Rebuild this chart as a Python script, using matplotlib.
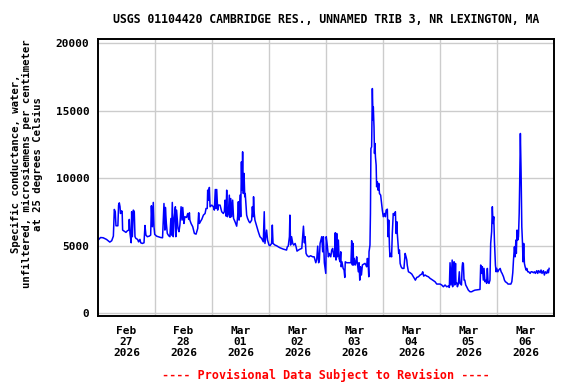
import numpy as np
import pandas as pd
import matplotlib
matplotlib.use("Agg")
from matplotlib import pyplot as plt

# hours since 2026-02-27 00:00 and specific conductance (uS/cm)
hours = [
    0.1, 1.1, 2.2, 3.6, 5.0, 5.8, 6.5, 6.9, 7.3, 7.6, 8.4, 8.7, 9.0, 9.3, 9.5, 10.0,
    10.2, 10.4, 11.4, 11.8, 12.4, 13.0, 13.2, 13.5, 14.0, 14.2, 14.5, 14.9, 15.3, 15.6,
    16.0, 16.7, 17.1, 17.7, 18.0, 18.7, 19.4, 19.8, 20.2, 20.8, 21.6, 22.2, 22.5, 22.9,
    23.3, 23.6, 23.9,
    24.7, 25.4, 26.4, 27.2, 27.8, 28.2, 28.4, 28.8, 29.2, 29.8, 30.3, 30.7, 31.0, 31.3,
    31.7, 32.1, 32.6, 32.8, 33.1, 33.7, 34.1, 34.5, 35.0, 35.4, 35.7, 36.2, 36.6, 37.3,
    37.8, 38.2, 38.5, 38.7, 39.2, 39.9, 40.6, 41.3, 42.0, 42.4, 42.7, 43.1, 43.7, 44.4,
    45.1, 45.5, 46.0, 46.2, 46.5, 46.9, 47.2, 47.9,
    48.6, 49.0, 49.4, 49.7, 50.0, 50.4, 50.7, 51.4, 52.1, 52.8, 53.2, 53.5, 53.9, 54.2,
    54.5, 54.9, 55.3, 55.6, 55.9, 56.3, 56.7, 57.1, 57.7, 58.4, 58.8, 59.1, 59.4, 59.8,
    60.1, 60.4, 60.6, 60.9, 61.2, 61.5, 61.8, 62.0, 62.6, 63.0, 63.6, 64.0, 64.7, 65.0,
    65.3, 65.5, 65.8, 66.1, 66.8, 67.5, 68.2, 68.9, 69.6, 70.0, 70.3, 71.0, 71.4,
    72.0, 72.4, 73.1, 73.4, 73.7, 74.5, 75.2, 75.9, 76.6, 77.3, 78.0, 79.4, 79.7, 80.1,
    80.6, 80.8, 81.1, 81.5, 82.0, 82.4, 83.0, 83.4, 83.8, 84.4, 85.1, 85.8, 86.5, 86.9,
    87.2, 87.6, 88.1, 88.8, 89.5, 90.4, 91.0, 91.7, 92.1, 92.5, 92.9, 93.2, 93.5, 94.2,
    94.6, 94.9, 95.3, 95.9,
    96.1, 96.6, 97.0, 97.4, 98.0, 98.4, 98.8, 99.1, 99.4, 99.6, 99.9, 100.2, 100.5,
    100.8, 101.2, 101.5, 101.9, 102.2, 102.4, 102.7, 103.2, 103.6, 103.9, 104.1, 104.7,
    106.5, 106.8, 107.1, 107.4, 107.6, 107.9, 108.3, 108.6, 108.9, 109.2, 109.6, 109.9,
    110.2, 110.5, 110.9, 111.3, 111.7, 112.4, 112.8, 113.1, 113.4, 113.7, 114.0, 114.1,
    114.5, 114.7, 114.9, 115.2, 115.5, 115.8, 115.9, 116.2, 116.4, 116.6, 116.8, 117.1,
    117.3, 117.6, 117.9, 118.2, 118.5, 119.0, 119.3, 119.7,
    120.1, 120.6, 121.0, 121.3, 121.8, 122.1, 122.4, 122.7, 122.9, 123.2, 123.6, 123.9,
    124.3, 124.8, 125.2, 125.5, 125.8, 126.0, 126.3, 126.6, 126.9, 127.2, 127.6, 128.1,
    128.8, 129.3, 129.7, 130.0, 130.2, 130.7, 131.4, 132.1, 132.8, 133.2, 133.6, 134.2,
    134.9, 135.6, 136.3, 136.7, 137.1, 137.7, 138.4, 139.1, 139.8, 140.5, 141.2, 141.9,
    142.6, 144.0, 144.7, 145.4, 146.1, 146.8, 147.5, 147.9, 148.2, 148.6, 149.1, 149.3,
    149.6, 149.9, 150.2, 150.5, 150.7, 151.0, 151.3, 151.7, 152.1, 152.4, 153.0, 153.3,
    153.5, 153.8, 154.1, 154.4, 154.8, 155.2, 155.9, 156.6, 157.3, 158.0, 158.7, 160.8,
    161.1, 161.5, 161.8, 162.2, 162.5, 162.9, 163.4, 163.6, 163.9, 164.2, 164.6, 165.0,
    165.3, 165.7, 166.0, 166.3, 166.6, 166.9, 167.3, 167.6, 167.8,
    168.3, 168.7, 169.3, 169.7, 170.1, 170.7, 171.1, 171.5, 172.1, 172.6, 173.8, 174.2,
    174.6, 174.9, 175.3, 175.6, 175.9, 176.1, 176.4, 176.7, 177.0, 177.3, 177.5, 177.8,
    178.1, 178.4, 178.7, 178.9, 179.2, 179.5, 179.8, 180.2, 180.5, 180.9, 181.3, 181.9,
    182.3, 182.7, 183.3, 183.7, 184.1, 184.7, 185.1, 185.5, 186.1, 186.5, 186.9, 187.5,
    187.9, 188.3, 188.9, 189.3, 189.6, 189.9,
]
cond = [
    5410, 5600, 5580, 5460, 5260, 5360, 5700, 7680, 7510, 6470, 6470, 8000, 8170, 7880, 7380, 7580,
    7510, 6150, 6030, 5980, 6100, 6150, 6940, 5900, 5210, 7510, 5660, 7630, 7510, 5660,
    5530, 5460, 5280, 5460, 5210, 5160, 5210, 6490, 5780, 5660, 5700, 5780, 7950, 6400,
    8200, 6400, 5830,
    5700, 5660, 5600, 5580, 8120, 6150, 7830, 6640, 5900, 5730, 5660, 7010, 5780, 8200,
    5660, 7010, 7880, 5660, 7630, 6270, 6030, 6520, 7880, 6890, 7830, 6640, 7140, 7090,
    7380, 6940, 7430, 6890, 6640, 6400, 5900, 5850, 6270, 7430, 6640, 6770, 6940, 7260,
    7380, 7750, 7750, 9110, 8370, 9310, 7880, 8000,
    7880, 7630, 9160, 7750, 9160, 7630, 8000, 8000, 7510, 7380, 7510, 8370, 7190, 9110,
    7140, 7380, 8740, 7090, 8490, 7140, 8370, 7010, 6770, 6440, 7140, 8250, 6890, 8740,
    7140, 11210, 9110, 11950, 8860, 10350, 8620, 8860, 7260, 7010, 6770, 6690, 6890, 7880,
    7140, 8620, 7380, 6890, 6440, 6030, 5660, 5530, 5280, 7510, 5160, 6150, 5410,
    5040, 4990, 5160, 6520, 5160, 5040, 4990, 4910, 4840, 4790, 4740, 4670, 4910, 4960,
    5660, 7260, 5040, 5660, 5160, 5040, 5160, 4910, 4590, 4670, 4740, 4790, 6440, 5210,
    5660, 4420, 4250, 4170, 4250, 4170, 4170, 3730, 3980, 4960, 3730, 3930, 5160, 5660,
    4540, 5660, 3730, 2940,
    5660, 4910, 4170, 4420, 4170, 4670, 4790, 4420, 4170, 4300, 5950, 3930, 5900,
    4170, 5410, 4050, 3800, 4540, 3430, 3800, 3310, 3190, 2640, 3800, 3730,
    3730, 5360, 3560, 5160, 3560, 4050, 3560, 3730, 4170, 3680, 3060, 3730,
    2440, 3430, 2820, 3560, 3610, 3680, 3560, 3430, 4050, 3800, 2690, 4540,
    5040, 7380, 12200, 12320, 16640, 14300, 15280, 13800, 11830, 12570, 11580, 10960,
    9360, 9730, 9110, 9610, 8860, 8740, 8250, 7630,
    7140, 7380, 7140, 7630, 7700, 5660, 6890, 4910, 4170, 4420, 4170, 5900,
    7380, 7260, 7510, 5900, 6770, 5900, 5160, 4420, 4670, 3680, 3430, 3310,
    3310, 4420, 4170, 3930, 3560, 3060, 2990, 2890, 2690, 2570, 2440, 2640,
    2690, 2820, 2890, 3060, 2740, 2820, 2740, 2690, 2570, 2490, 2400, 2320,
    2150, 2150, 2080, 1950, 2080, 1950, 2000, 1900, 3730, 2080, 3930, 1950,
    3060, 3800, 2080, 3680, 2200, 2250, 1950, 2150, 3060, 2200, 2080, 3430,
    3730, 3680, 2440, 2440, 2080, 1950, 1700, 1580, 1580, 1650, 1700, 1750,
    3560, 2940, 3430, 2440, 3310, 2320, 2440, 2200, 3310, 2320, 2200, 2440,
    5160, 6030, 7880, 6640, 7140, 5280, 3560, 3060, 3310,
    3060, 3190, 3310, 3060, 2940, 2690, 2440, 2320, 2250, 2150, 2150, 2320,
    2990, 3930, 4910, 4170, 5410, 4420, 6150, 5410, 5660, 7380, 9480, 13310,
    10470, 6400, 5160, 3800, 5160, 3680, 3430, 3190, 3310, 3060, 3060, 2940,
    3060, 3060, 2990, 3060, 2940, 3140, 2940, 3140, 2990, 3190, 2940, 3140,
    2820, 3060, 2940, 3190, 2990, 3310,
]

day_labels = ["Feb\n27\n2026", "Feb\n28\n2026", "Mar\n01\n2026", "Mar\n02\n2026",
              "Mar\n03\n2026", "Mar\n04\n2026", "Mar\n05\n2026", "Mar\n06\n2026"]
y_ticks = [0, 5000, 10000, 15000, 20000]

title = "USGS 01104420 CAMBRIDGE RES., UNNAMED TRIB 3, NR LEXINGTON, MA"
y_label = ("Specific conductance, water,\n"
           "unfiltered, microsiemens per centimeter\n"
           "at 25 degrees Celsius")
note = "---- Provisional Data Subject to Revision ----"

start = np.datetime64("2026-02-27T00:00")
times = start + (np.array(hours) * 60).astype("timedelta64[m]")
noons = [start + np.timedelta64(12 + 24 * i, "h") for i in range(8)]
midnights = [start + np.timedelta64(i, "D") for i in range(1, 8)]

plt.rcParams["font.family"] = "DejaVu Sans Mono"
plt.rcParams["font.weight"] = "bold"

fig = plt.figure(figsize=(5.76, 3.84), dpi=100)
ax = fig.add_axes([0.170, 0.177, 0.792, 0.721])
ax.plot(times, cond, color="#0000ff", lw=1.1)

ax.set_xlim(start, start + np.timedelta64(8, "D"))
ax.set_ylim(-220, 20300)
ax.set_xticks(noons)
ax.set_xticklabels(day_labels, linespacing=1.15)
ax.set_xticks(midnights, minor=True)
ax.set_yticks(y_ticks)
ax.set_yticklabels([str(v) for v in y_ticks])
ax.grid(True, which="minor", axis="x", color="#cccccc", lw=1)
ax.grid(True, which="major", axis="y", color="#cccccc", lw=1)
ax.set_axisbelow(True)
ax.tick_params(which="both", length=0, labelsize=8)
ax.tick_params(axis="x", pad=7)
ax.tick_params(axis="y", pad=6)
for s in ax.spines.values():
    s.set_linewidth(1.4)
    s.set_color("black")

fig.text(0.566, 0.95, title, ha="center", va="center", fontsize=8.3)
fig.text(0.047, 0.573, y_label, ha="center", va="center", rotation=90,
         multialignment="center", fontsize=7.7, linespacing=1.15)
fig.text(0.565, 0.023, note, ha="center", va="center", fontsize=8.5, color="red")

fig.savefig("out.png", dpi=100)
